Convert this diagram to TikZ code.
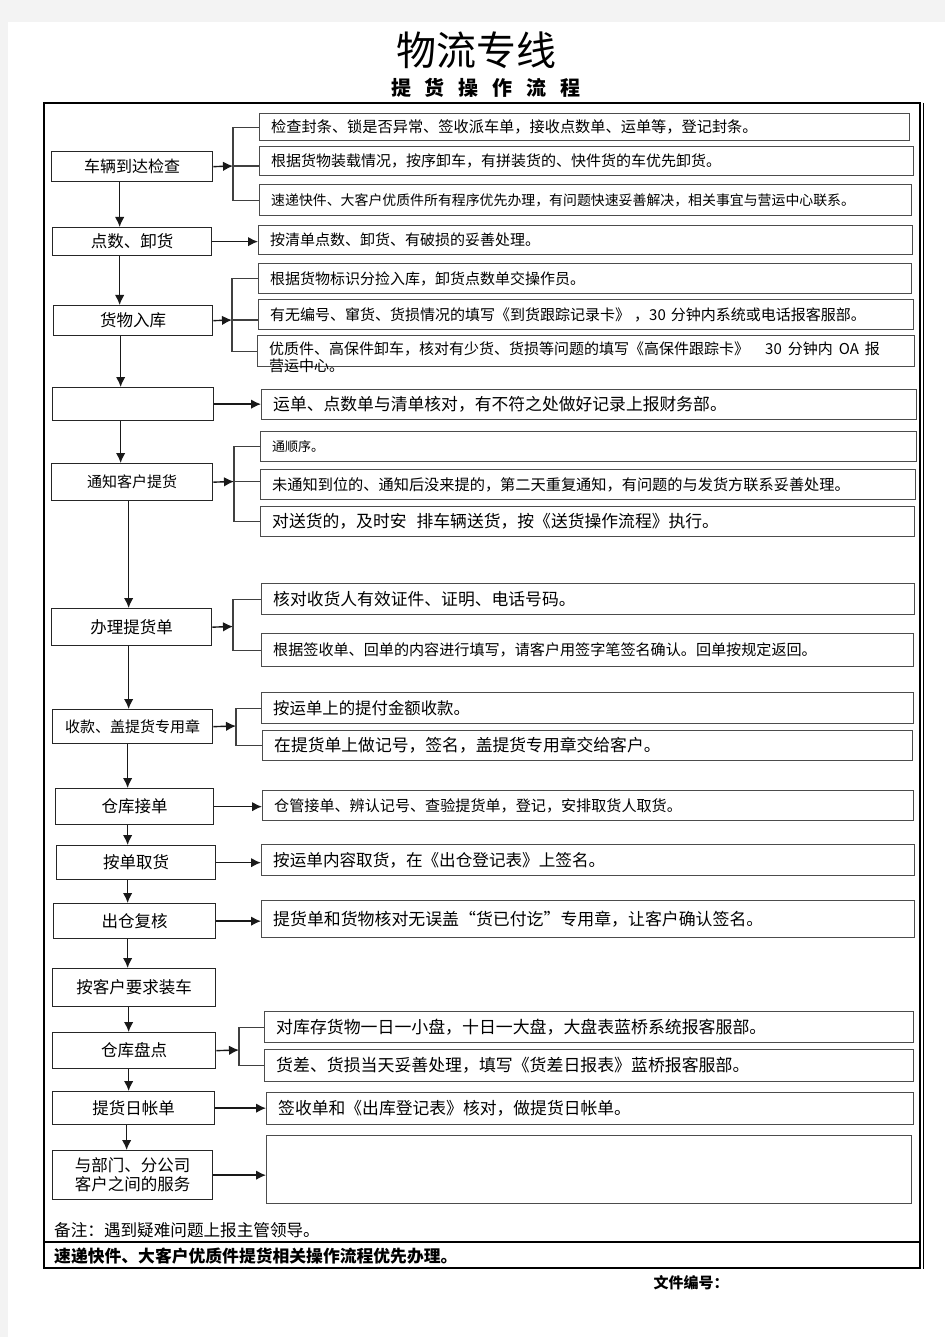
\documentclass[tikz,border=0pt]{standalone}
\usepackage{fontspec}
\setmainfont{Noto Sans CJK SC}
\usetikzlibrary{arrows.meta,calc}
\definecolor{bgc}{HTML}{F3F3F3}
\newcommand\myfs[1]{\fontsize{#1pt}{#1pt}\selectfont}
\newcommand\LB[7]{\node[lbox,minimum width=#4,minimum height=#5,font=\myfs{#6}] (#1) at (#2,#3) {#7};}
\newcommand\RB[7]{\node[rbox,minimum width=#4,minimum height=#5] (#1) at (#2,#3) {};
  \node[rtxt,font=\myfs{#6}] (#1t) at ([xshift=12pt]#1.west) {#7};}
\tikzset{
  lbox/.style={draw=black!85,line width=1.3pt,anchor=north west,inner sep=0pt},
  rbox/.style={draw=black!70,line width=1.3pt,anchor=north west,inner sep=0pt},
  rtxt/.style={anchor=west,inner sep=0pt},
  arr/.style={draw=black!90,line width=1.4pt,-{Latex[length=10pt,width=9.5pt]}},
  ln/.style={draw=black!75,line width=1.2pt},
}
\begin{document}
\begin{tikzpicture}[x=1pt,y=-1pt]
\useasboundingbox (0,0) rectangle (945,1337);
\fill[bgc] (0,0) rectangle (945,1337);
\fill[white] (8,22) rectangle (945,1337);

% titles
\node (title) at (476,50) {\myfs{40}物流专线};
\node (sub) at (485.5,88) {\bfseries\myfs{20}提\hspace{13.8pt}货\hspace{13.8pt}操\hspace{13.8pt}作\hspace{13.8pt}流\hspace{13.8pt}程};

% frame
\draw[line width=2pt] (44,103) rectangle (920,1268);
\draw[line width=1pt] (923,103) -- (923,1269);
\draw[line width=2pt] (44,1241.5) -- (920,1241.5);

% left boxes
\LB{b1}{51}{151}{161}{30}{16}{车辆到达检查}
\LB{b2}{52}{227}{159}{28}{16.5}{点数、卸货}
\LB{b3}{53}{305}{159}{30}{16.5}{货物入库}
\LB{b4}{52}{387}{161}{33}{16.5}{}
\LB{b5}{51}{463}{161}{37}{15}{通知客户提货}
\LB{b6}{51}{608}{160}{37}{16.5}{办理提货单}
\LB{b7}{52}{709}{160}{34}{15}{收款、盖提货专用章}
\LB{b8}{55}{788}{158}{36}{16.5}{仓库接单}
\LB{b9}{56}{845}{159}{34}{16.5}{按单取货}
\LB{b10}{53}{903}{162}{35}{16.5}{出仓复核}
\LB{b11}{52}{968}{163}{38}{16.5}{按客户要求装车}
\LB{b12}{52}{1032}{163}{36}{16.5}{仓库盘点}
\LB{b13}{52}{1091}{162}{33}{16.5}{提货日帐单}
\node[lbox,minimum width=160,minimum height=49,align=center,font=\fontsize{16.5pt}{19pt}\selectfont] (b14) at (52,1150) {与部门、分公司\\客户之间的服务};

% right boxes
\RB{ra1}{259}{113}{650}{27}{15.2}{检查封条、锁是否异常、签收派车单，接收点数单、运单等，登记封条。}
\RB{ra2}{259}{146}{654}{29}{15}{根据货物装载情况，按序卸车，有拼装货的、快件货的车优先卸货。}
\RB{ra3}{259}{184}{652}{31}{13.9}{速递快件、大客户优质件所有程序优先办理，有问题快速妥善解决，相关事宜与营运中心联系。}
\RB{rb}{258}{225}{654}{29}{15}{按清单点数、卸货、有破损的妥善处理。}
\RB{rc1}{258}{263}{653}{30}{15}{根据货物标识分捡入库，卸货点数单交操作员。}
\RB{rc2}{258}{299}{655}{30}{15}{有无编号、窜货、货损情况的填写《到货跟踪记录卡》\hspace{4pt}，30\hspace{5pt}分钟内系统或电话报客服部。}
\node[rbox,minimum width=657,minimum height=31] (rc3) at (257,335) {};
\node[rtxt,font=\myfs{15}] (rc3t) at (269,349) {优质件、高保件卸车，核对有少货、货损等问题的填写《高保件跟踪卡》\hspace{16pt}30\hspace{6pt}分钟内\hspace{6pt}OA\hspace{6pt}报};
\node[rtxt,font=\myfs{15}] (rc3u) at (269,366) {营运中心。};
\RB{rd}{261}{389}{655}{30}{16.8}{运单、点数单与清单核对，有不符之处做好记录上报财务部。}
\RB{re1}{260}{431}{656}{30}{13}{通顺序。}
\RB{re2}{260}{469}{655}{30}{15.2}{未通知到位的、通知后没来提的，第二天重复通知，有问题的与发货方联系妥善处理。}
\RB{re3}{260}{506}{654}{30}{16.8}{对送货的，及时安\hspace{10pt}排车辆送货，按《送货操作流程》执行。}
\RB{rf1}{261}{583}{653}{31}{16.8}{核对收货人有效证件、证明、电话号码。}
\RB{rf2}{261}{633}{652}{33}{15.1}{根据签收单、回单的内容进行填写，请客户用签字笔签名确认。回单按规定返回。}
\RB{rg1}{261}{692}{652}{31}{16.4}{按运单上的提付金额收款。}
\RB{rg2}{262}{730}{650}{30}{16.8}{在提货单上做记号，签名，盖提货专用章交给客户。}
\RB{rh}{262}{790}{651}{30}{15.1}{仓管接单、辨认记号、查验提货单，登记，安排取货人取货。}
\RB{ri}{261}{844}{653}{31}{16.6}{按运单内容取货，在《出仓登记表》上签名。}
\RB{rj}{261}{900}{653}{37}{16.9}{提货单和货物核对无误盖“货已付讫”专用章，让客户确认签名。}
\RB{rk1}{264}{1011}{649}{31}{16.9}{对库存货物一日一小盘，十日一大盘，大盘表蓝桥系统报客服部。}
\RB{rk2}{264}{1049}{649}{32}{16.9}{货差、货损当天妥善处理，填写《货差日报表》蓝桥报客服部。}
\RB{rl}{266}{1092}{647}{32}{16.8}{签收单和《出库登记表》核对，做提货日帐单。}
\node[rbox,minimum width=645,minimum height=68] (rm) at (266,1135) {};

% vertical arrows
\draw[arr] ([xshift=-12.5pt]b1.south) -- ([xshift=-12.5pt]b1.south |- b2.north);
\draw[arr] ([xshift=-12.5pt]b2.south) -- ([xshift=-12.5pt]b2.south |- b3.north);
\draw[arr] ([xshift=-12.5pt]b3.south) -- ([xshift=-12.5pt]b3.south |- b4.north);
\draw[arr] ([xshift=-12.5pt]b4.south) -- ([xshift=-12.5pt]b4.south |- b5.north);
\draw[arr] ([xshift=-3.5pt]b5.south) -- ([xshift=-3.5pt]b5.south |- b6.north);
\draw[arr] ([xshift=-3pt]b6.south) -- ([xshift=-3pt]b6.south |- b7.north);
\draw[arr] ([xshift=-5pt]b7.south) -- ([xshift=-5pt]b7.south |- b8.north);
\draw[arr] ([xshift=-7pt]b8.south) -- ([xshift=-7pt]b8.south |- b9.north);
\draw[arr] ([xshift=-8.5pt]b9.south) -- ([xshift=-8.5pt]b9.south |- b10.north);
\draw[arr] ([xshift=-7pt]b10.south) -- ([xshift=-7pt]b10.south |- b11.north);
\draw[arr] ([xshift=-5.5pt]b11.south) -- ([xshift=-5.5pt]b11.south |- b12.north);
\draw[arr] ([xshift=-5.5pt]b12.south) -- ([xshift=-5.5pt]b12.south |- b13.north);
\draw[arr] ([xshift=-7pt]b13.south) -- ([xshift=-7pt]b13.south |- b14.north);

% straight horizontal arrows
\draw[arr] (b2.east) -- (b2.east -| rb.west);
\draw[arr] (b4.east) -- (b4.east -| rd.west);
\draw[arr] (b8.east) -- (b8.east -| rh.west);
\draw[arr] (b9.east) -- (b9.east -| ri.west);
\draw[arr] (b10.east) -- (b10.east -| rj.west);
\draw[arr] (b13.east) -- (b13.east -| rl.west);
\draw[arr] (b14.east) -- (b14.east -| rm.west);

% brackets
\coordinate (j1) at (233,166);
\draw[arr] (b1.east) -- (j1);
\draw[ln] (ra1.west) -| (j1) |- (ra3.west);
\draw[ln] (j1) -- (j1 -| ra2.west);

\coordinate (j3) at (232,320);
\draw[arr] (b3.east) -- (j3);
\draw[ln] (rc1.west) -| (j3) |- (rc3.west);
\draw[ln] (j3) -- (j3 -| rc2.west);

\coordinate (j5) at (234,481.5);
\draw[arr] (b5.east) -- (j5);
\draw[ln] (re1.west) -| (j5) |- (re3.west);
\draw[ln] (j5) -- (j5 -| re2.west);

\coordinate (j6) at (233,626.5);
\draw[arr] (b6.east) -- (j6);
\draw[ln] (rf1.west) -| (j6) |- (rf2.west);

\coordinate (j7) at (236,726);
\draw[arr] (b7.east) -- (j7);
\draw[ln] (rg1.west) -| (j7) |- (rg2.west);

\coordinate (j12) at (239,1050);
\draw[arr] (b12.east) -- (j12);
\draw[ln] (rk1.west) -| (j12) |- (rk2.west);

% notes
\node[anchor=west,inner sep=0pt,font=\myfs{16.6}] (note) at (54,1230) {备注：遇到疑难问题上报主管领导。};
\node[anchor=west,inner sep=0pt,font=\bfseries\myfs{16.8}] (prio) at (54,1256) {速递快件、大客户优质件提货相关操作流程优先办理。};
\node[font=\bfseries\myfs{15}] (fileno) at (691,1283) {文件编号：};
\end{tikzpicture}
\end{document}
